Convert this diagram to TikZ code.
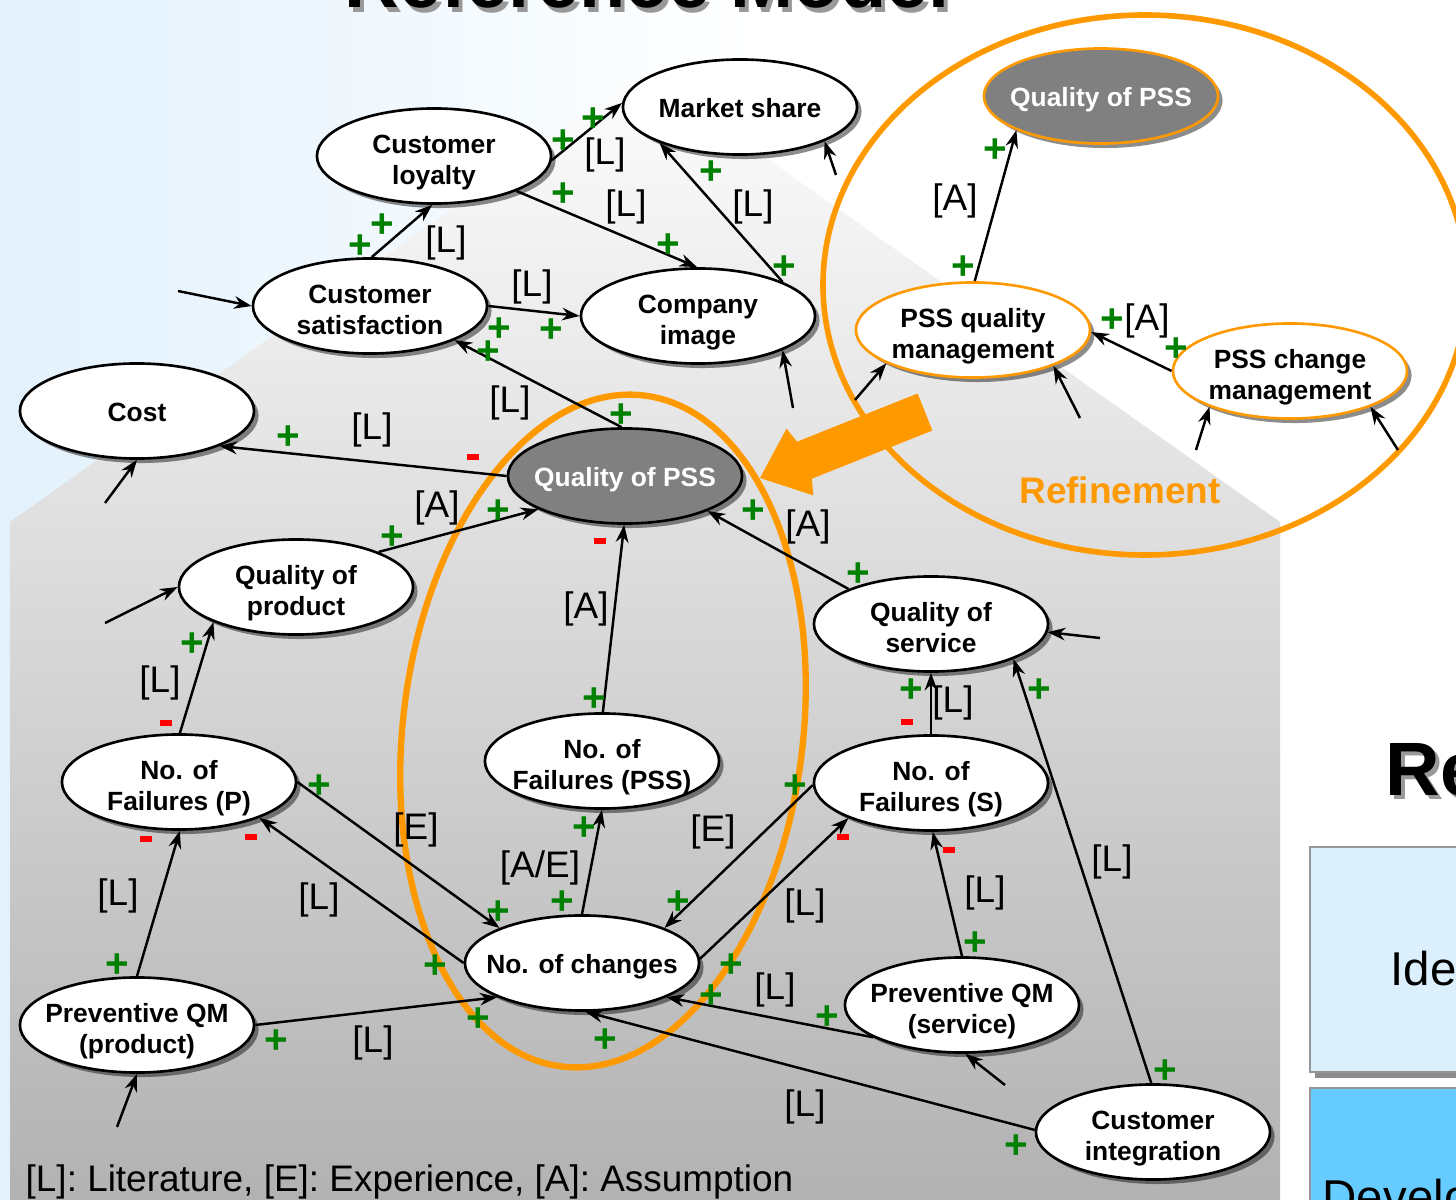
\documentclass[tikz,border=0pt]{standalone}
\usepackage{fontspec}
\setmainfont{Liberation Sans}
\usetikzlibrary{shapes.geometric,arrows.meta,shadows}

\definecolor{plgreen}{RGB}{0,128,0}
\definecolor{mired}{RGB}{255,0,0}
\definecolor{orng}{RGB}{255,153,0}
\definecolor{pssgray}{RGB}{128,128,128}
\definecolor{bgblue}{RGB}{226,241,252}
\definecolor{boxa}{RGB}{219,239,252}
\definecolor{boxb}{RGB}{102,204,255}
\definecolor{boxline}{RGB}{150,150,150}
\definecolor{hstop}{RGB}{253,253,253}
\definecolor{hsmid}{RGB}{231,231,231}
\definecolor{hsbot}{RGB}{178,178,178}

\newcommand\myNodeFont{\fontsize{7.5pt}{9pt}\selectfont\bfseries}
\newcommand\myLabFont{\fontsize{10.5pt}{12pt}\selectfont}
\newcommand\myPlusFont{\fontsize{11.5pt}{11.5pt}\selectfont\bfseries}
\newcommand\myTitleFont{\fontsize{21.5pt}{24pt}\selectfont\bfseries}
\newcommand\myRefFont{\fontsize{10.5pt}{12pt}\selectfont\bfseries}
\newcommand\myBoxFont{\fontsize{13.5pt}{16pt}\selectfont}
\newcommand\ntxt[2][-3.6pt]{\raisebox{#1}[0pt][0pt]{\makebox[0pt]{\begin{tabular}{@{}c@{}}#2\end{tabular}}}}

\tikzset{
  ell/.style={ellipse, draw=black, line width=0.75pt, fill=white,
    minimum width=2.34cm, minimum height=0.95cm, inner sep=0pt, font=\myNodeFont,
    drop shadow={shadow xshift=0.045cm, shadow yshift=-0.045cm, fill=black, opacity=0.45}},
  core/.style={ell, fill=pssgray, text=white},
  coreref/.style={core, draw=orng},
  refell/.style={ell, draw=orng},
  arr/.style={-{Stealth[length=5pt,width=3.6pt]}, line width=0.7pt},
  lab/.style={font=\myLabFont, inner sep=0pt},
  pl/.style={text=plgreen, font=\myPlusFont, inner sep=0pt},
  mi/.style={fill=mired, minimum width=0.12cm, minimum height=0.05cm, inner sep=0pt},
}

\begin{document}
\begin{tikzpicture}[x=0.01cm, y=-0.01cm]
\useasboundingbox (0,0) rectangle (1456,1200);
\clip (0,0) rectangle (1456,1200);

% background
\fill[white] (0,0) rectangle (1456,1200);
\shade[left color=bgblue, right color=white] (0,0) rectangle (760,1200);
\shade[top color=hstop, middle color=hsmid, bottom color=hsbot]
  (10,1200) -- (10,522) -- (645,72) -- (1280,522) -- (1280,1200) -- cycle;

% title (cut off at the top)
\node[anchor=base, font=\myTitleFont, text=black!40, inner sep=0pt] (titlesh) at (651,12) {Reference Model};
\node[anchor=base, font=\myTitleFont, inner sep=0pt] (title) at (647,8) {Reference Model};

% right side partial content
\node[anchor=base west, font=\myTitleFont, text=black!40, inner sep=0pt] (resh) at (1389,799) {Re};
\node[anchor=base west, font=\myTitleFont, inner sep=0pt] (re) at (1385,795) {Re};
\fill[black!45] (1315,852) rectangle (1470,1078);
\draw[boxline, fill=boxa, line width=0.8pt] (1310,847) rectangle (1470,1072);
\fill[black!45] (1315,1093) rectangle (1470,1220);
\draw[boxline, fill=boxb, line width=0.8pt] (1310,1088) rectangle (1470,1215);
\node[anchor=base west, font=\myBoxFont, inner sep=0pt] (iden) at (1390,985) {Iden};
\node[anchor=base west, font=\myBoxFont, inner sep=0pt] (develo) at (1322,1213) {Develo};

% orange ellipses
\draw[orng, line width=1.8pt, rotate around={-7:(603,731)}] (603,731) ellipse [x radius=200, y radius=338];
\draw[orng, line width=1.6pt] (1145,285) ellipse [x radius=322, y radius=270];

% nodes
\node[ell] (cl) at (434,156) {\ntxt{Customer\\loyalty}};
\node[ell] (ms) at (740,107) {\ntxt[-2.9pt]{Market share}};
\node[ell] (cs) at (370,306) {\ntxt{Customer\\satisfaction}};
\node[ell] (ci) at (698,316) {\ntxt{Company\\image}};
\node[ell] (cost) at (137,411) {\ntxt[-2.9pt]{Cost}};
\node[core] (qpss) at (625,476) {\ntxt[-2.9pt]{Quality of PSS}};
\node[coreref] (qpss2) at (1101,96) {\ntxt[-2.9pt]{Quality of PSS}};
\node[refell] (pqm) at (973,330) {\ntxt{PSS quality\\management}};
\node[refell] (pcm) at (1290,371) {\ntxt{PSS change\\management}};
\node[ell] (qp) at (296,587) {\ntxt{Quality of\\product}};
\node[ell] (qs) at (931,624) {\ntxt{Quality of\\service}};
\node[ell] (fp) at (179,782) {\ntxt{No. of\\Failures (P)}};
\node[ell] (fpss) at (602,761) {\ntxt{No. of\\Failures (PSS)}};
\node[ell] (fs) at (931,783) {\ntxt{No. of\\Failures (S)}};
\node[ell] (nc) at (582,963) {\ntxt[-2.9pt]{No. of changes}};
\node[ell] (pqmp) at (137,1025) {\ntxt{Preventive QM\\(product)}};
\node[ell] (pqms) at (962,1005) {\ntxt{Preventive QM\\(service)}};
\node[ell] (cint) at (1153,1132) {\ntxt{Customer\\integration}};

% free ends of incoming arrows
\coordinate (t5) at (836,175);
\coordinate (t6) at (178,291);
\coordinate (t8) at (793,408);
\coordinate (t11) at (105,503);
\coordinate (t15) at (105,623);
\coordinate (t18) at (1100,638);
\coordinate (t28) at (117,1127);
\coordinate (t31) at (1005,1085);
\coordinate (tr3) at (855,400);
\coordinate (tr4) at (1080,418);
\coordinate (tr5) at (1196,450);
\coordinate (tr6) at (1398,450);

% connectors
\draw[arr] (cs.88) -- (cl.268);
\draw[arr] (cl.358) -- (ms.178);
\draw[arr] (cl.337) -- (ci.91);
\draw[arr] (ci.22) -- (ms.204);
\draw[arr] (t5) -- (ms.338);
\draw[arr] (t6) -- (cs.180);
\draw[arr] (cs.0) -- (ci.180);
\draw[arr] (t8) -- (ci.338);
\draw[arr] (qpss.94) -- (cs.338);
\draw[arr] (qpss.180) -- (cost.337);
\draw[arr] (t11) -- (cost.270);
\draw[arr] (qp.23) -- (qpss.201);
\draw[arr] (qs.157) -- (qpss.337);
\draw[arr] (fpss.89) -- (qpss.269);
\draw[arr] (t15) -- (qp.180);
\draw[arr] (fp.89) -- (qp.203);
\draw[arr] (fs.90) -- (qs.270);
\draw[arr] (t18) -- (qs.356);
\draw[arr] (cint.92) -- (qs.337);
\draw[arr] (pqms.90) -- (fs.272);
\draw[arr] (nc.2) -- (fs.203);
\draw[arr] (fs.181) -- (nc.23);
\draw[arr] (fp.0) -- (nc.157);
\draw[arr] (nc.180) -- (fp.336);
\draw[arr] (nc.90) -- (fpss.270);
\draw[arr] (pqmp.0) -- (nc.202);
\draw[arr] (pqmp.90) -- (fp.271);
\draw[arr] (t28) -- (pqmp.270);
\draw[arr] (pqms.200) -- (nc.338);
\draw[arr] (cint.179) -- (nc.274);
\draw[arr] (t31) -- (pqms.274);
\draw[arr] (pqm.88) -- (qpss2.202);
\draw[arr] (pcm.180) -- (pqm.359);
\draw[arr] (tr3) -- (pqm.201);
\draw[arr] (tr4) -- (pqm.336);
\draw[arr] (tr5) -- (pcm.204);
\draw[arr] (tr6) -- (pcm.336);

% source labels
\foreach \lx/\ly/\lt [count=\i] in {446/243/[L], 605/155/[L], 626/207/[L], 753/207/[L],
  532/287/[L], 510/403/[L], 372/430/[L], 437/508/[A], 808/527/[A], 586/609/[A],
  160/683/[L], 953/703/[L], 1112/862/[L], 985/893/[L], 805/906/[L], 713/832/[E],
  416/830/[E], 319/900/[L], 373/1043/[L], 118/896/[L], 775/990/[L], 805/1107/[L],
  955/201/[A], 1147/321/[A]}
  \node[lab] (lab\i) at (\lx,\ly) {\lt};
\node[lab] (labAE) at (540,868) {[A/E]};

% polarity signs
\foreach \px/\py [count=\i] in {360/247, 382/226, 563/142, 593/120, 563/195, 668/246,
  784/268, 711/173, 499/330, 551/331, 621/416, 488/353, 288/438, 392/538, 498/512,
  858/575, 753/512, 594/700, 192/645, 911/691, 1165/1072, 1039/691, 975/944, 731/966,
  795/787, 678/903, 319/787, 498/913, 435/967, 562/903, 584/829, 276/1042, 478/1020,
  117/966, 827/1018, 711/997, 1016/1147, 605/1041, 963/268, 995/151, 1176/350, 1112/321}
  \node[pl] (plus\i) at (\px,\py) {+};
\foreach \mx/\my [count=\i] in {473/457, 600/541, 166/723, 907/722, 949/850, 843/837, 251/837, 146/839}
  \node[mi] (minus\i) at (\mx,\my) {};

% refinement arrow and caption
\fill[orng] (917.6,393.5) -- (797.1,441.7) -- (786.5,428.6) -- (760,478)
  -- (813.3,495.4) -- (811.9,478.7) -- (932.4,430.5) -- cycle;
\node[font=\myRefFont, text=orng, inner sep=0pt] (refine) at (1120,490) {Refinement};

% legend
\node[font=\myLabFont, anchor=base west, inner sep=0pt] (legend) at (25,1191)
  {[L]: Literature, [E]: Experience, [A]: Assumption};
\end{tikzpicture}
\end{document}
